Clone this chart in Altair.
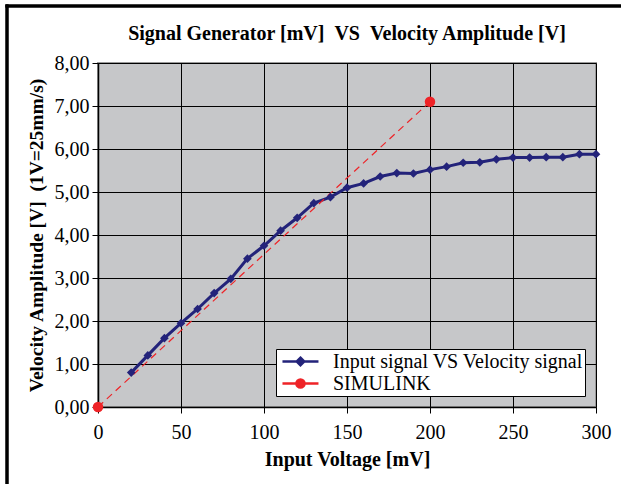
import altair as alt
import pandas as pd

# ---- data ----
input_mv = [20, 30, 40, 50, 60, 70, 80, 90, 100, 110, 120, 130, 140, 150, 160,
            170, 180, 190, 200, 210, 220, 230, 240, 250, 260, 270, 280, 290, 300]
velocity_v = [0.80, 1.20, 1.60, 1.95, 2.28, 2.65, 2.98, 3.45, 3.75, 4.10, 4.40, 4.74, 4.88, 5.10, 5.20,
              5.36, 5.44, 5.43, 5.52, 5.59, 5.68, 5.69, 5.76, 5.80, 5.80, 5.81, 5.81, 5.88, 5.88]
sim_mv = [0, 200]
sim_v = [0.0, 7.10]
series_names = ["Input signal VS Velocity signal", "SIMULINK"]
x_ticks = [0, 50, 100, 150, 200, 250, 300]
y_ticks = [0, 1, 2, 3, 4, 5, 6, 7, 8]

NAVY = "#23237A"
RED = "#EE2327"
FONT = "Liberation Serif"

df_main = pd.DataFrame({"mv": input_mv, "v": velocity_v, "series": series_names[0]})
df_sim = pd.DataFrame({"mv": sim_mv, "v": sim_v, "series": series_names[1]})
df_leg = pd.DataFrame({"series": series_names, "mv": [0, 0], "v": [0, 0]})

xs = alt.Scale(domain=[0, 300], nice=False)
ys = alt.Scale(domain=[0, 8], nice=False)

x_enc = alt.X("mv:Q", scale=xs, axis=alt.Axis(
    values=x_ticks, title="Input Voltage [mV]", grid=True, gridColor="black", gridOpacity=1,
    gridWidth=1, domainColor="black", domainWidth=1.5, tickColor="black", tickSize=6,
    labelFlush=False,
    labelFont=FONT, labelFontSize=20, labelColor="black", labelPadding=9,
    titleFont=FONT, titleFontSize=20, titleFontWeight="bold", titleColor="black", titlePadding=7))
y_enc = alt.Y("v:Q", scale=ys, axis=alt.Axis(
    values=y_ticks, title="Velocity Amplitude [V]\u00a0\u00a0(1V=25mm/s)", grid=True,
    gridColor="black", gridOpacity=1, gridWidth=1, domainColor="black", domainWidth=1.5,
    tickColor="black", tickSize=6, labelFlush=False,
    labelExpr="replace(format(datum.value, '.2f'), '.', ',')",
    labelFont=FONT, labelFontSize=20, labelColor="black", labelPadding=3,
    titleFont=FONT, titleFontSize=19.5, titleFontWeight="bold", titleColor="black", titlePadding=8))

line_main = alt.Chart(df_main).mark_line(color=NAVY, strokeWidth=3).encode(x=x_enc, y=y_enc)
pts_main = alt.Chart(df_main).mark_point(shape="diamond", filled=True, color=NAVY, size=75,
                                         opacity=1).encode(x="mv:Q", y="v:Q")
line_sim = alt.Chart(df_sim).mark_line(color=RED, strokeWidth=1.2, strokeDash=[7, 5]).encode(
    x="mv:Q", y="v:Q")
pts_sim = alt.Chart(df_sim).mark_circle(color=RED, size=110, opacity=1, clip=False).encode(
    x="mv:Q", y="v:Q")

# legend glyphs (unit = 9 px): line from -0.67 to 3.33, marker at 1.33
path_navy = "M-0.67,0H3.33M1.33,-0.42L1.75,0L1.33,0.42L0.91,0Z"
path_red = ("M-0.67,0H0.9M1.76,0H3.33M1.78,0A0.45,0.45 0 1,1 0.88,0"
            "A0.45,0.45 0 1,1 1.78,0Z")

legend = alt.Legend(title=None, orient="bottom-right", offset=11, fillColor="white",
                    strokeColor="black", padding=2, labelFont=FONT, labelFontSize=20,
                    labelColor="black", labelLimit=0, symbolSize=324, symbolStrokeWidth=2.5,
                    labelOffset=34, rowPadding=1)
leg_layer = alt.Chart(df_leg).mark_point(filled=True, opacity=1).encode(
    x="mv:Q", y="v:Q",
    shape=alt.Shape("series:N", scale=alt.Scale(domain=series_names, range=[path_navy, path_red]),
                    legend=legend, sort=series_names),
    fill=alt.Fill("series:N", scale=alt.Scale(domain=series_names, range=[NAVY, RED]),
                  legend=legend, sort=series_names),
    stroke=alt.Stroke("series:N", scale=alt.Scale(domain=series_names, range=[NAVY, RED]),
                      legend=legend, sort=series_names),
).transform_filter("false")

# page frame (decoration)
frame_left = alt.Chart(df_leg).mark_rule(color="black", strokeWidth=3, clip=False).encode(
    x=alt.value(-91), y=alt.value(-58.5), y2=alt.value(421))
frame_top = alt.Chart(df_leg).mark_rule(color="black", strokeWidth=3, clip=False).encode(
    x=alt.value(-92.5), x2=alt.value(523), y=alt.value(-57))

chart = alt.layer(line_main, line_sim, pts_main, pts_sim, leg_layer, frame_left, frame_top).properties(
    width=498, height=344,
    title=alt.TitleParams("Signal Generator [mV]\u00a0\u00a0VS\u00a0\u00a0Velocity Amplitude [V]",
                          font=FONT, fontSize=20, fontWeight="bold", color="black",
                          anchor="middle", frame="group", baseline="alphabetic", offset=23, dy=80),
    autosize=alt.AutoSizeParams(type="none"),
    padding={"left": 98, "top": 63, "right": 25, "bottom": 77},
    background="white",
).configure_view(fill="#C6C7C9", stroke="#9A9A9A", strokeWidth=2)

chart.save("out.html", embed_options={"renderer": "svg", "actions": False})
